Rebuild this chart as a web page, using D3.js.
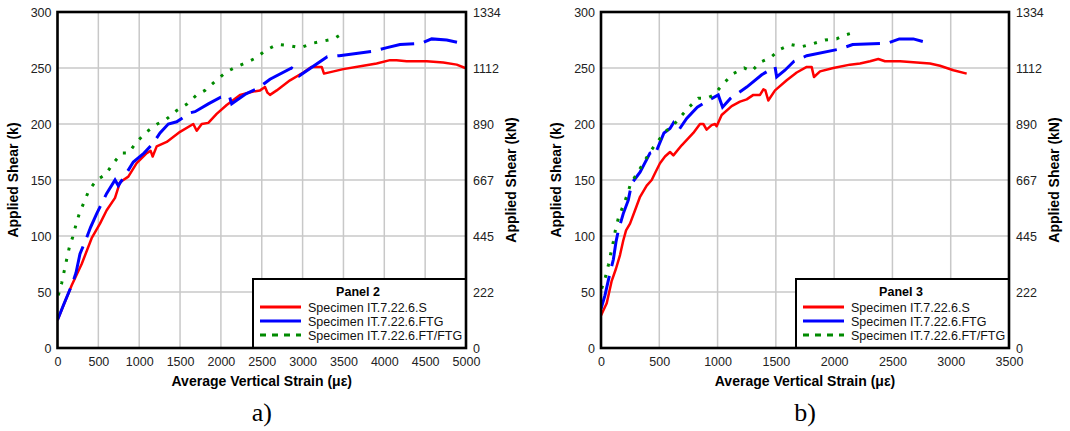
<!DOCTYPE html>
<html><head><meta charset="utf-8">
<script src="https://cdn.jsdelivr.net/npm/d3@7"></script>
<style>body{margin:0;background:#fff;}svg{display:block;}</style>
</head><body>
<svg id="c" width="1070" height="431"></svg>
<script>
// ---- data ----
const seriesNames = ["Specimen IT.7.22.6.S", "Specimen IT.7.22.6.FTG", "Specimen IT.7.22.6.FT/FTG"];
const yTicks = [0, 50, 100, 150, 200, 250, 300];
const kNLabels = ["0", "222", "445", "667", "890", "1112", "1334"];
const xTicksA = [0, 500, 1000, 1500, 2000, 2500, 3000, 3500, 4000, 4500, 5000];
const xTicksB = [0, 500, 1000, 1500, 2000, 2500, 3000, 3500];

// Panel 2 (a)
const p2Red = [[0,25],[174,56],[296,75],[418,98],[520,111],[602,123],[704,134],[765,148],[867,153],[969,165],[1092,174],[1140,176],[1165,171],[1214,180],[1337,184],[1500,193],[1662,200],[1704,194],[1765,200],[1846,201],[1948,209],[2071,217],[2234,226],[2397,229],[2479,230],[2540,233],[2570,228],[2601,226],[2683,230],[2846,239],[3009,246],[3111,251],[3234,251],[3262,245],[3498,249],[3743,252],[3906,254],[4070,257],[4150,257],[4274,256],[4519,256],[4722,255],[4886,253],[4990,250]];
const p2Blue = [[0,25],[71,38],[174,56],[226,67],[275,84],[349,97],[406,108],[480,120],[602,138],[704,150],[744,145],[826,154],[928,166],[1059,174],[1173,183],[1255,192],[1356,200],[1459,202],[1623,210],[1683,211],[1846,218],[1998,224],[2103,225],[2132,218],[2307,227],[2458,232],[2601,240],[2866,250],[2930,247],[2960,243],[3302,260],[3449,261],[3874,265],[4021,268],[4192,271],[4445,272],[4580,276],[4764,275],[4960,272]];
const p2Green = [[10,47],[51,58],[83,69],[112,79],[145,90],[186,99],[226,110],[267,120],[324,130],[386,141],[480,150],[590,155],[683,165],[786,174],[867,174],[969,184],[1092,193],[1222,200],[1328,204],[1459,212],[1589,218],[1704,226],[1805,230],[1928,238],[2058,246],[2185,251],[2316,255],[2429,259],[2552,266],[2690,271],[2833,270],[2977,268],[3111,272],[3253,274],[3384,276],[3510,282]];

// Panel 3 (b)
const p3Red = [[0,29],[49,40],[92,60],[129,71],[163,83],[191,96],[215,105],[249,111],[292,123],[335,135],[392,145],[435,150],[463,156],[506,165],[549,171],[592,175],[621,172],[692,181],[792,192],[849,200],[878,200],[906,195],[949,199],[978,200],[992,198],[1035,208],[1121,216],[1192,220],[1250,222],[1307,226],[1364,226],[1393,231],[1410,230],[1435,221],[1493,230],[1593,239],[1679,246],[1765,251],[1807,251],[1827,242],[1879,247],[1993,250],[2136,253],[2222,254],[2308,256],[2379,258],[2436,256],[2565,256],[2708,255],[2822,254],[2908,252],[3023,248],[3137,245]];
const p3Blue = [[0,35],[34,47],[77,67],[106,79],[129,95],[149,105],[191,120],[234,132],[263,147],[335,157],[420,174],[449,175],[463,173],[492,180],[540,192],[592,196],[621,201],[649,196],[663,194],[735,205],[826,215],[920,221],[1006,226],[1043,215],[1112,223],[1250,233],[1379,244],[1493,251],[1507,242],[1578,248],[1656,256],[1765,261],[2050,267],[2159,271],[2456,272],[2559,276],[2679,276],[2822,272]];
const p3Green = [[6,53],[40,64],[63,74],[83,84],[106,95],[123,105],[149,116],[186,126],[226,137],[255,147],[311,156],[363,165],[420,175],[477,183],[549,193],[621,199],[678,206],[755,215],[835,223],[906,223],[969,226],[1049,236],[1135,245],[1228,250],[1292,247],[1364,255],[1450,259],[1541,267],[1627,271],[1722,269],[1827,272],[1922,275],[2022,276],[2079,279],[2179,282]];

const svg = d3.select("#c");
const colors = ["#ff0000", "#0000ff", "#008a00"];

function panel(opt) {
  const {x0, x1, xmax, xticks, title, data, caption} = opt;
  const y0 = 12, y1 = 348;
  const x = d3.scaleLinear().domain([0, xmax]).range([x0, x1]);
  const y = d3.scaleLinear().domain([0, 300]).range([y1, y0]);
  const g = svg.append("g");

  // grid
  g.append("g").selectAll("line.v").data(xticks).join("line")
    .attr("x1", d => x(d)).attr("x2", d => x(d)).attr("y1", y0).attr("y2", y1)
    .attr("stroke", "#c8c8c8").attr("stroke-width", 1.5);
  g.append("g").selectAll("line.h").data(yTicks).join("line")
    .attr("x1", x0).attr("x2", x1).attr("y1", d => y(d)).attr("y2", d => y(d))
    .attr("stroke", "#c8c8c8").attr("stroke-width", 1.5);

  // axes (labels only)
  const fontF = "'Liberation Sans', Arial, sans-serif";
  const ax = g.append("g").attr("transform", `translate(0,${y1})`)
    .call(d3.axisBottom(x).tickValues(xticks).tickSize(0).tickPadding(9).tickFormat(d3.format("d")));
  const ayl = g.append("g").attr("transform", `translate(${x0},0)`)
    .call(d3.axisLeft(y).tickValues(yTicks).tickSize(0).tickPadding(6));
  const ayr = g.append("g").attr("transform", `translate(${x1},0)`)
    .call(d3.axisRight(y).tickValues(yTicks).tickSize(0).tickPadding(7).tickFormat((d, i) => kNLabels[i]));
  [ax, ayl, ayr].forEach(a => {
    a.select(".domain").remove();
    a.selectAll("text").attr("font-family", fontF).attr("font-size", 12.5).attr("fill", "#222");
  });

  // series
  const line = d3.line().x(d => x(d[0])).y(d => y(d[1]));
  const clipId = "clip" + caption.replace(/\W/g, "");
  svg.append("clipPath").attr("id", clipId).append("rect")
    .attr("x", x0).attr("y", y0 - 6).attr("width", x1 - x0).attr("height", y1 - y0 + 6);
  const sg = g.append("g").attr("clip-path", `url(#${clipId})`);
  sg.append("path").datum(data[0]).attr("d", line).attr("fill", "none")
    .attr("stroke", colors[0]).attr("stroke-width", 2.5).attr("stroke-linejoin", "round");
  sg.append("path").datum(data[1]).attr("d", line).attr("fill", "none")
    .attr("stroke", colors[1]).attr("stroke-width", 3).attr("stroke-dasharray", "34,10");
  sg.append("path").datum(data[2]).attr("d", line).attr("fill", "none")
    .attr("stroke", colors[2]).attr("stroke-width", 3).attr("stroke-dasharray", "3,8.5");

  // legend
  const lx0 = x1 - 213, ly0 = 279;
  const lg = g.append("g");
  lg.append("rect").attr("x", lx0).attr("y", ly0).attr("width", x1 - lx0).attr("height", y1 - ly0)
    .attr("fill", "#fff").attr("stroke", "#000").attr("stroke-width", 2);
  lg.append("text").attr("x", lx0 + 105).attr("y", ly0 + 17).attr("text-anchor", "middle")
    .attr("font-family", fontF).attr("font-size", 12.5).attr("font-weight", "bold").text(title);
  seriesNames.forEach((n, i) => {
    const yy = ly0 + 28 + i * 14;
    lg.append("line").attr("x1", lx0 + 7).attr("x2", lx0 + 48).attr("y1", yy).attr("y2", yy)
      .attr("stroke", colors[i]).attr("stroke-width", 3)
      .attr("stroke-dasharray", i === 2 ? "6,6" : null);
    lg.append("text").attr("x", lx0 + 55).attr("y", yy + 4.5)
      .attr("font-family", fontF).attr("font-size", 12.5).attr("fill", "#111").text(n);
  });

  // frame
  g.append("rect").attr("x", x0).attr("y", y0).attr("width", x1 - x0).attr("height", y1 - y0)
    .attr("fill", "none").attr("stroke", "#000").attr("stroke-width", 2.6);

  // titles
  const cx = (x0 + x1) / 2;
  g.append("text").attr("x", cx).attr("y", 386).attr("text-anchor", "middle")
    .attr("font-family", fontF).attr("font-size", 14).attr("font-weight", "bold")
    .text("Average Vertical Strain (με)");
  g.append("text").attr("transform", `translate(${x0 - 40},${(y0 + y1) / 2}) rotate(-90)`)
    .attr("text-anchor", "middle").attr("font-family", fontF).attr("font-size", 14).attr("font-weight", "bold")
    .text("Applied Shear (k)");
  g.append("text").attr("transform", `translate(${x1 + 50},${(y0 + y1) / 2}) rotate(-90)`)
    .attr("text-anchor", "middle").attr("font-family", fontF).attr("font-size", 14).attr("font-weight", "bold")
    .text("Applied Shear (kN)");
  g.append("text").attr("x", cx).attr("y", 421).attr("text-anchor", "middle")
    .attr("font-family", "'Liberation Serif', 'Times New Roman', serif").attr("font-size", 26)
    .text(caption);
}

panel({x0: 57.5, x1: 466, xmax: 5000, xticks: xTicksA, title: "Panel 2", data: [p2Red, p2Blue, p2Green], caption: "a)"});
panel({x0: 601, x1: 1009, xmax: 3500, xticks: xTicksB, title: "Panel 3", data: [p3Red, p3Blue, p3Green], caption: "b)"});
</script>
</body></html>
